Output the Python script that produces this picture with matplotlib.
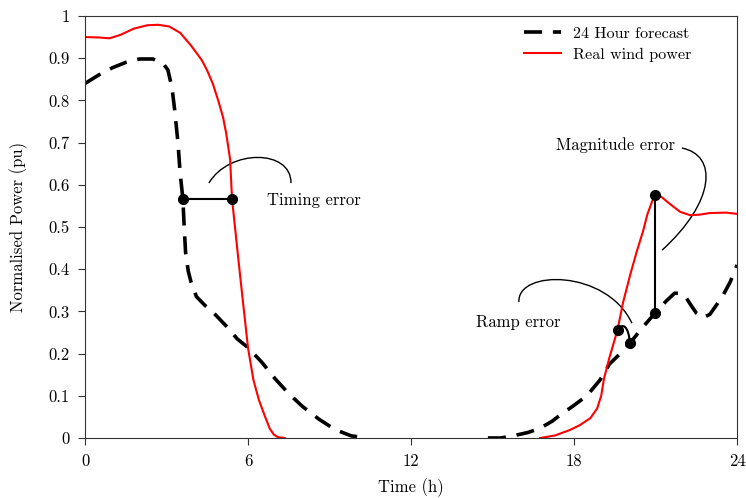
import numpy as np
import matplotlib
matplotlib.use("Agg")
import matplotlib.pyplot as plt
from matplotlib.path import Path
from matplotlib.patches import PathPatch

plt.rcParams["font.family"] = ["cmr10", "DejaVu Serif"]
plt.rcParams["mathtext.fontset"] = "cm"
plt.rcParams["axes.unicode_minus"] = False
plt.rcParams["font.size"] = 12

# forecast (black dashed), gaps where curve is absent
fc_t = [0, 0.5, 1.0, 1.5, 2.0, 2.5, 2.9, 3.05, 3.2, 3.3, 3.42, 3.5, 3.6, 3.65, 3.7,
        3.8, 3.9, 4.1, 4.4, 4.8, 5.2, 5.6, 6.0, 6.5, 7.0, 7.5, 8.0, 8.6, 9.2, 9.8, 10.4,
        np.nan,
        14.83, 15.3, 15.75, 16.3, 16.75, 17.2, 17.5, 17.97, 18.47, 18.95, 19.3, 19.7,
        20.06, 20.5, 20.98, 21.4, 21.7, 21.9, 22.1, 22.3, 22.5, 22.75, 23.0, 23.45, 23.75, 24.0]
fc_y = [0.84, 0.86, 0.877, 0.89, 0.898, 0.898, 0.885, 0.872, 0.83, 0.777, 0.70, 0.628, 0.567, 0.50, 0.44,
        0.395, 0.37, 0.335, 0.315, 0.292, 0.265, 0.235, 0.214, 0.18, 0.14, 0.105, 0.075, 0.045, 0.02, 0.005, 0.0,
        np.nan,
        0.0, 0.0, 0.005, 0.013, 0.023, 0.04, 0.055, 0.076, 0.10, 0.137, 0.175, 0.2,
        0.225, 0.26, 0.296, 0.325, 0.343, 0.343, 0.335, 0.315, 0.296, 0.285, 0.293, 0.334, 0.37, 0.41]

# real wind power (red)
rw_t = [0, 0.5, 0.9, 1.3, 1.8, 2.3, 2.7, 3.1, 3.5, 3.9, 4.3, 4.5, 4.7, 4.9, 5.08, 5.2, 5.34,
        5.41, 5.6, 5.8, 6.0, 6.2, 6.4, 6.6, 6.8, 6.95, 7.1, 7.35,
        np.nan,
        16.75, 17.3, 17.85, 18.2, 18.6, 18.85, 19.0, 19.1, 19.3, 19.6, 19.8, 20.06, 20.3, 20.54,
        20.7, 20.87, 20.98, 21.2, 21.5, 21.9, 22.27, 22.6, 23.0, 23.6, 24.0]
rw_y = [0.95, 0.949, 0.947, 0.955, 0.97, 0.978, 0.979, 0.975, 0.96, 0.93, 0.895, 0.87, 0.84, 0.80, 0.76, 0.72, 0.66,
        0.567, 0.45, 0.33, 0.213, 0.137, 0.09, 0.055, 0.022, 0.008, 0.002, 0.0,
        np.nan,
        0.0, 0.006, 0.019, 0.03, 0.047, 0.07, 0.10, 0.14, 0.19, 0.256, 0.32, 0.385, 0.44, 0.49,
        0.53, 0.56, 0.576, 0.572, 0.556, 0.536, 0.528, 0.529, 0.533, 0.534, 0.531]

# error markers
timing_t = [3.6, 5.41]
timing_y = [0.567, 0.567]
ramp_t = [19.6, 20.06]
ramp_y = [0.256, 0.225]
mag_t = [20.98, 20.98]
mag_y = [0.296, 0.576]

x_ticks = [0, 6, 12, 18, 24]
y_ticks = [0, 0.1, 0.2, 0.3, 0.4, 0.5, 0.6, 0.7, 0.8, 0.9, 1.0]
y_labels = ["0", "0.1", "0.2", "0.3", "0.4", "0.5", "0.6", "0.7", "0.8", "0.9", "1"]

fig = plt.figure(figsize=(7.46, 4.98), dpi=100)
ax = fig.add_axes([0.114, 0.1205, 0.874, 0.8475])

ax.plot(fc_t, fc_y, color="black", lw=2.6, dashes=(5, 3), label="24 Hour forecast")
ax.plot(rw_t, rw_y, color="red", lw=1.5, label="Real wind power")

ax.plot(timing_t, timing_y, color="black", lw=1.5, marker="o", ms=7)
ax.plot(mag_t, mag_y, color="black", lw=1.5, marker="o", ms=7)
ax.plot(ramp_t, ramp_y, color="black", lw=0, marker="o", ms=7)


def curve(pts, lw=1.0):
    codes = [Path.MOVETO, Path.CURVE4, Path.CURVE4, Path.CURVE4]
    ax.add_patch(PathPatch(Path(pts, codes), fc="none", ec="black", lw=lw))


# swoosh lines to the labels
curve([(4.56, 0.604), (5.3, 0.685), (7.6, 0.685), (7.58, 0.604)])
curve([(15.97, 0.322), (15.9, 0.40), (19.2, 0.40), (20.13, 0.272)])
curve([(21.97, 0.687), (23.3, 0.67), (23.2, 0.56), (21.24, 0.445)])
curve([(19.6, 0.256), (19.8, 0.275), (20.0, 0.265), (20.06, 0.225)], lw=1.5)

ax.text(6.7, 0.564, "Timing error", va="center", ha="left")
ax.text(14.39, 0.275, "Ramp error", va="center", ha="left")
ax.text(21.72, 0.694, "Magnitude error", va="center", ha="right")

ax.set_xlim(0, 24)
ax.set_ylim(0, 1)
ax.set_xticks(x_ticks)
ax.set_yticks(y_ticks)
ax.set_yticklabels(y_labels)
ax.tick_params(direction="out", length=5, color="#333333", pad=6)
for s in ax.spines.values():
    s.set_color("#333333")
ax.set_xlabel("Time (h)", labelpad=7)
ax.set_ylabel("Normalised Power (pu)", labelpad=15)

ax.legend(loc="upper right", bbox_to_anchor=(0.94, 0.99), borderaxespad=0,
          frameon=False, handlelength=2.3, handletextpad=0.75,
          labelspacing=0.4, fontsize=11.6)

fig.savefig("out.png", dpi=100)
